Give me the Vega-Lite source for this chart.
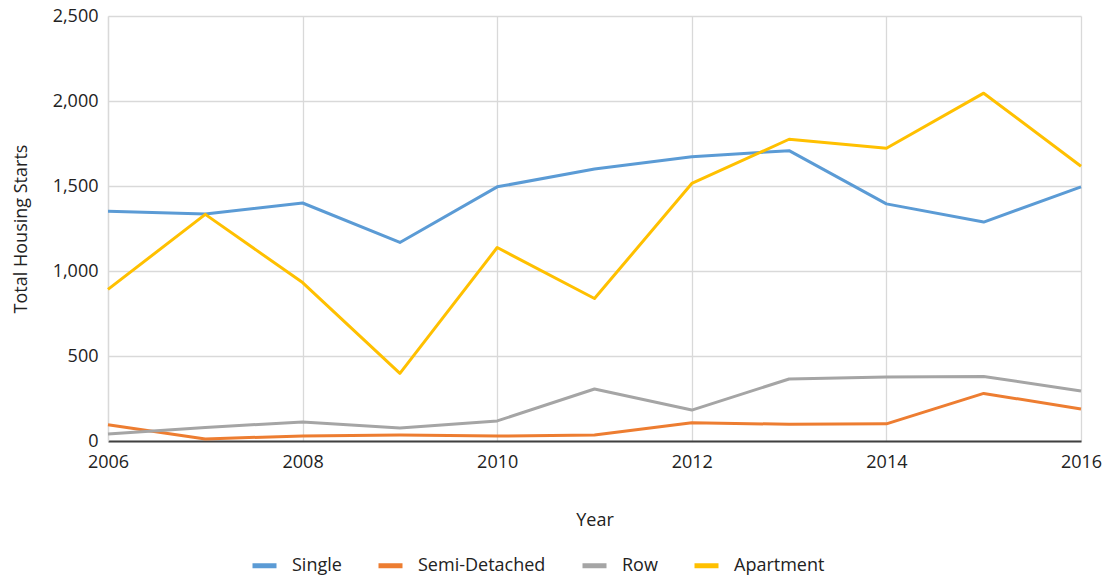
{
  "$schema": "https://vega.github.io/schema/vega-lite/v6.json",
  "width": 973,
  "height": 425,
  "autosize": {"type": "none"},
  "padding": {"left": 108, "top": 16, "right": 27, "bottom": 136},
  "background": "white",
  "config": {
    "font": "Open Sans",
    "view": {"stroke": null}
  },
  "data": {
    "values": [
      {"year": 2006, "type": "Single", "starts": 1352},
      {"year": 2007, "type": "Single", "starts": 1335},
      {"year": 2008, "type": "Single", "starts": 1400},
      {"year": 2009, "type": "Single", "starts": 1168},
      {"year": 2010, "type": "Single", "starts": 1495},
      {"year": 2011, "type": "Single", "starts": 1600},
      {"year": 2012, "type": "Single", "starts": 1672},
      {"year": 2013, "type": "Single", "starts": 1708},
      {"year": 2014, "type": "Single", "starts": 1395},
      {"year": 2015, "type": "Single", "starts": 1288},
      {"year": 2016, "type": "Single", "starts": 1495},
      {"year": 2006, "type": "Semi-Detached", "starts": 95},
      {"year": 2007, "type": "Semi-Detached", "starts": 12},
      {"year": 2008, "type": "Semi-Detached", "starts": 30},
      {"year": 2009, "type": "Semi-Detached", "starts": 35},
      {"year": 2010, "type": "Semi-Detached", "starts": 29},
      {"year": 2011, "type": "Semi-Detached", "starts": 35},
      {"year": 2012, "type": "Semi-Detached", "starts": 108},
      {"year": 2013, "type": "Semi-Detached", "starts": 98},
      {"year": 2014, "type": "Semi-Detached", "starts": 101},
      {"year": 2015, "type": "Semi-Detached", "starts": 280},
      {"year": 2016, "type": "Semi-Detached", "starts": 188},
      {"year": 2006, "type": "Row", "starts": 41},
      {"year": 2007, "type": "Row", "starts": 80},
      {"year": 2008, "type": "Row", "starts": 112},
      {"year": 2009, "type": "Row", "starts": 76},
      {"year": 2010, "type": "Row", "starts": 118},
      {"year": 2011, "type": "Row", "starts": 306},
      {"year": 2012, "type": "Row", "starts": 182},
      {"year": 2013, "type": "Row", "starts": 365},
      {"year": 2014, "type": "Row", "starts": 376},
      {"year": 2015, "type": "Row", "starts": 380},
      {"year": 2016, "type": "Row", "starts": 294},
      {"year": 2006, "type": "Apartment", "starts": 892},
      {"year": 2007, "type": "Apartment", "starts": 1333},
      {"year": 2008, "type": "Apartment", "starts": 932},
      {"year": 2009, "type": "Apartment", "starts": 398},
      {"year": 2010, "type": "Apartment", "starts": 1138},
      {"year": 2011, "type": "Apartment", "starts": 838},
      {"year": 2012, "type": "Apartment", "starts": 1515},
      {"year": 2013, "type": "Apartment", "starts": 1775},
      {"year": 2014, "type": "Apartment", "starts": 1722},
      {"year": 2015, "type": "Apartment", "starts": 2046},
      {"year": 2016, "type": "Apartment", "starts": 1616}
    ]
  },
  "mark": {"type": "line", "strokeWidth": 3, "strokeJoin": "round", "strokeCap": "butt"},
  "encoding": {
    "x": {
      "field": "year",
      "type": "quantitative",
      "title": "Year",
      "scale": {"domain": [2006, 2016], "nice": false, "zero": false},
      "axis": {
        "values": [2006, 2008, 2010, 2012, 2014, 2016],
        "format": "d",
        "grid": true,
        "gridColor": "#d9d9d9",
        "gridWidth": 1.3,
        "ticks": false,
        "domainColor": "#404040",
        "domainWidth": 2,
        "labelFontSize": 18,
        "labelColor": "#222222",
        "labelPadding": 12,
        "labelFlush": false,
        "titleFontSize": 18,
        "titleFontWeight": "normal",
        "titleColor": "#222222",
        "titlePadding": 40
      }
    },
    "y": {
      "field": "starts",
      "type": "quantitative",
      "title": "Total Housing Starts",
      "scale": {"domain": [0, 2500], "nice": false},
      "axis": {
        "values": [0, 500, 1000, 1500, 2000, 2500],
        "format": ",d",
        "grid": true,
        "gridColor": "#d9d9d9",
        "gridWidth": 1.3,
        "ticks": false,
        "domainColor": "#d9d9d9",
        "domainWidth": 1.3,
        "labelFontSize": 18,
        "labelColor": "#222222",
        "labelPadding": 10,
        "titleFontSize": 18,
        "titleFontWeight": "normal",
        "titleColor": "#222222",
        "titlePadding": 22
      }
    },
    "color": {
      "field": "type",
      "type": "nominal",
      "scale": {
        "domain": ["Single", "Semi-Detached", "Row", "Apartment"],
        "range": ["#5b9bd5", "#ed7d31", "#a5a5a5", "#ffc000"]
      },
      "legend": {
        "title": null,
        "orient": "none",
        "direction": "horizontal",
        "legendX": 142,
        "legendY": 535,
        "padding": 0,
        "symbolType": "stroke",
        "symbolSize": 576,
        "symbolStrokeWidth": 5,
        "symbolOffset": 0,
        "labelFontSize": 18,
        "labelColor": "#222222",
        "labelOffset": 13,
        "columnPadding": 26
      }
    }
  }
}
